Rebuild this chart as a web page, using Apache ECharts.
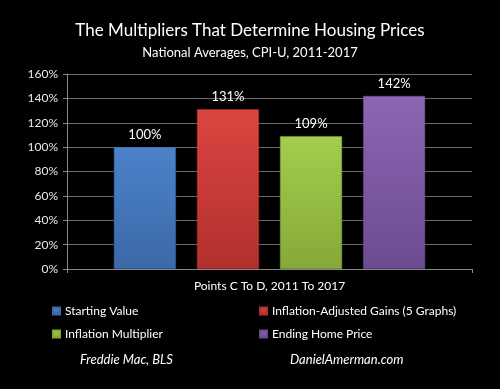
<!DOCTYPE html>
<html><head><meta charset="utf-8">
<script src="https://cdn.jsdelivr.net/npm/echarts@6/dist/echarts.min.js"></script>
<style>html,body{margin:0;padding:0;background:#000;}#c{width:500px;height:389px;}</style>
</head><body><div id="c"></div>
<script>
const categories = ['Points C To D, 2011 To 2017'];
const seriesNames = ['Starting Value', 'Inflation-Adjusted Gains (5 Graphs)', 'Inflation Multiplier', 'Ending Home Price'];
const seriesValues = [[100], [131], [109], [142]];
const yTicks = { min: 0, max: 160, interval: 20 };
const colors = [['#4c82c9', '#3b68a8'], ['#dc4541', '#b2302e'], ['#a3ce4c', '#85a838'], ['#8c66b3', '#6c4c90']];
const FONT = 'Lato';

const chart = echarts.init(document.getElementById('c'));
chart.setOption({
  backgroundColor: '#000',
  textStyle: { fontFamily: FONT },
  title: {
    text: 'The Multipliers That Determine Housing Prices',
    subtext: 'National Averages, CPI-U, 2011-2017',
    left: 'center', top: 17, itemGap: 7,
    textStyle: { color: '#fff', fontSize: 17, fontWeight: 'normal', fontFamily: FONT },
    subtextStyle: { color: '#fff', fontSize: 13, fontFamily: FONT }
  },
  grid: { left: 67, right: 28, top: 74, bottom: 120 },
  xAxis: {
    type: 'category', data: categories,
    axisLine: { lineStyle: { color: '#888' } },
    axisTick: { show: true, length: 4, lineStyle: { color: '#888' } },
    axisLabel: { color: '#fff', fontSize: 12, margin: 11, fontFamily: FONT }
  },
  yAxis: {
    type: 'value', min: yTicks.min, max: yTicks.max, interval: yTicks.interval,
    axisLine: { show: true, lineStyle: { color: '#888' } },
    axisTick: { show: true, length: 4, lineStyle: { color: '#888' } },
    axisLabel: { color: '#e8e8e8', fontSize: 12, margin: 9, formatter: '{value}%', fontFamily: FONT },
    splitLine: { lineStyle: { color: '#6a6a6a' } }
  },
  legend: [
    { data: [seriesNames[0], seriesNames[2]], orient: 'vertical', left: 47, top: 300, itemWidth: 7, itemHeight: 7, itemGap: 11,
      icon: 'rect', textStyle: { color: '#fff', fontSize: 12, fontFamily: FONT } },
    { data: [seriesNames[1], seriesNames[3]], orient: 'vertical', left: 254, top: 300, itemWidth: 7, itemHeight: 7, itemGap: 11,
      icon: 'rect', textStyle: { color: '#fff', fontSize: 12, fontFamily: FONT } }
  ],
  graphic: [
    { type: 'text', left: 80, top: 353, style: { text: 'Freddie Mac, BLS', fill: '#fff', font: 'italic 13px ' + FONT } },
    { type: 'text', left: 290, top: 353, style: { text: 'DanielAmerman.com', fill: '#fff', font: 'italic 13px ' + FONT } }
  ],
  series: seriesNames.map((n, i) => ({
    name: n, type: 'bar', data: seriesValues[i], barWidth: 62, barGap: '34%',
    itemStyle: {
      color: new echarts.graphic.LinearGradient(0, 0, 0, 1, [{ offset: 0, color: colors[i][0] }, { offset: 1, color: colors[i][1] }]),
      borderColor: colors[i][1], borderWidth: 0.5
    },
    label: { show: true, position: 'top', distance: 6, formatter: '{c}%', color: '#fff', fontSize: 13, fontFamily: FONT }
  }))
});
</script></body></html>
